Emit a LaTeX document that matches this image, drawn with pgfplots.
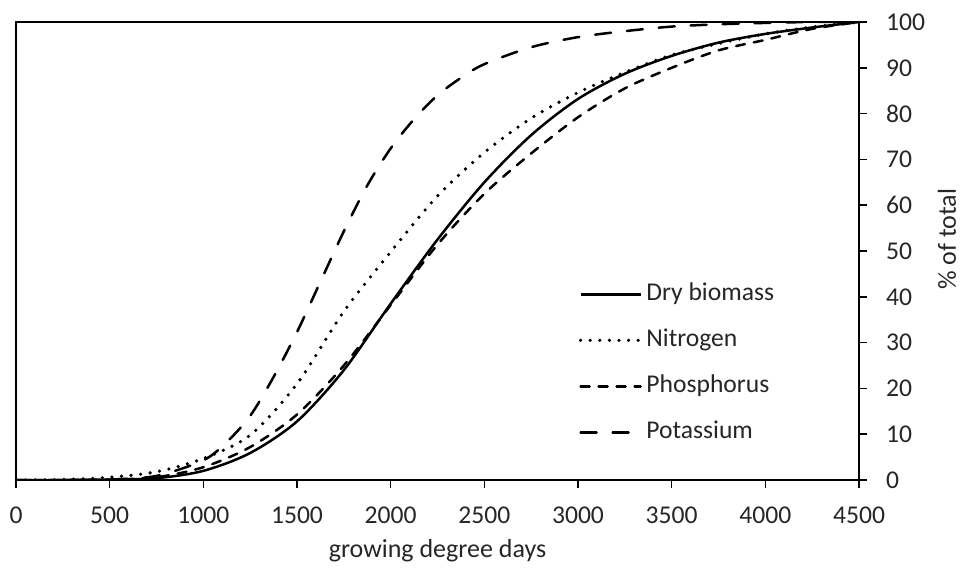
\documentclass[border=0pt]{standalone}
\usepackage{pgfplots}
\pgfplotsset{compat=1.18}
\usepackage{pgfplotstable}
\usepackage{fontspec}
\setmainfont{Carlito}

\pgfplotstableread{
x D N P
0 0 0 0
250 0 0.1 0
500 0.1 0.6 0.1
750 0.4 1.8 0.6
1000 2 4.7 2.8
1250 5.9 9.8 7.2
1500 12.8 21 14.3
1750 24 36.8 25
2000 38.5 49.8 38.2
2250 52.5 62 51.4
2500 65 71.5 62.5
2750 75.3 79 71.3
3000 83.2 84.6 79.2
3250 88.7 89 85.5
3500 92.6 92.8 90
3750 95.5 95.3 93.8
4000 97.4 97.4 96.1
4250 98.8 98.9 98.5
4500 100 100 100
}\maintable

\pgfplotstableread{
x K
0 0
250 0
500 0.1
750 0.9
1000 4.3
1125 8.3
1250 14
1375 22.5
1500 32.3
1625 43.3
1750 54.3
1875 64.3
2000 72.4
2125 78.8
2250 84
2375 87.8
2500 90.8
2750 94.5
3000 96.7
3250 98
3500 99
3750 99.5
4000 99.8
4250 100
4500 100
}\ktable

\begin{document}
\begin{tikzpicture}
\begin{axis}[
  scale only axis,
  width=421.5pt, height=229pt,
  xmin=0, xmax=4500, ymin=0, ymax=100,
  xtick={0,500,...,4500},
  ytick={0,10,...,100},
  axis line style={black, line width=0.8pt},
  tick style={black, line width=0.8pt},
  tick align=outside,
  major tick length=4pt,
  xtick pos=bottom,
  ytick pos=right,
  yticklabel pos=right,
  /pgf/number format/assume math mode=true,
  /pgf/number format/set thousands separator={},
  tick label style={font=\fontsize{12.8}{15}\selectfont, text=black!85},
  xticklabel style={yshift=-6pt},
  yticklabel style={xshift=6pt},
  xlabel={growing degree days},
  ylabel={\% of total},
  label style={font=\fontsize{13}{15}\selectfont, text=black!85},
  xlabel style={at={(axis description cs:0.5,0)}, anchor=base, yshift=-38.5pt},
  ylabel style={at={(axis description cs:1,0.526)}, anchor=center, yshift=-44pt},
  legend cell align=left,
  legend image code/.code={\draw[#1] (0pt,0pt) -- (30pt,0pt);},
  legend style={draw=none, fill=none,
    at={(axis description cs:0.66,0.45)}, anchor=north west,
    font=\fontsize{12.8}{15}\selectfont, text=black!85,
    row sep=7pt,
    nodes={inner sep=2pt, text height=9pt, text depth=3pt}},
  every axis plot/.append style={black, line width=1.25pt, smooth, tension=0.5},
]
\addplot[solid] table[x=x, y=D] {\maintable};
\addlegendentry{Dry biomass}
\addplot[line width=1.8pt, line cap=round, dash pattern=on 0pt off 4.8pt] table[x=x, y=N] {\maintable};
\addlegendentry{Nitrogen}
\addplot[line cap=round, dash pattern=on 4.5pt off 4.5pt] table[x=x, y=P] {\maintable};
\addlegendentry{Phosphorus}
\addplot[line cap=round, dash pattern=on 8pt off 8pt] table[x=x, y=K] {\ktable};
\addlegendentry{Potassium}
\end{axis}
\pgfresetboundingbox
\path ([xshift=-8pt,yshift=-44.5pt]current axis.south west) rectangle ([xshift=51pt,yshift=11pt]current axis.north east);
\end{tikzpicture}
\end{document}
